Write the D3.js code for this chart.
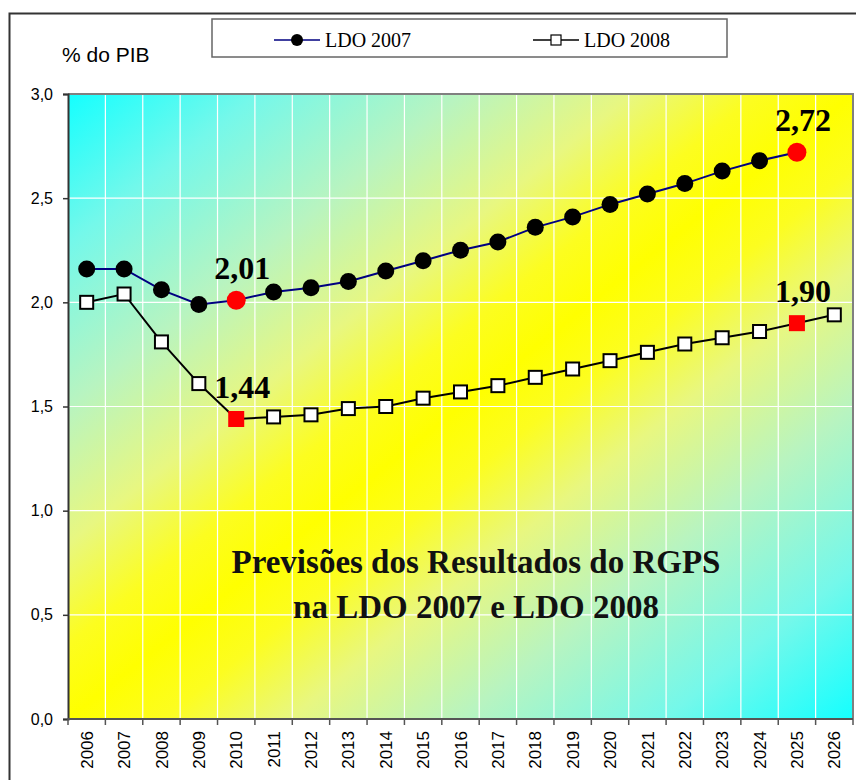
<!DOCTYPE html>
<html>
<head>
<meta charset="utf-8">
<script src="https://cdn.jsdelivr.net/npm/d3@7"></script>
<style>
  html, body { margin: 0; padding: 0; background: #fff; }
  svg { display: block; }
</style>
</head>
<body>
<svg id="chart" width="856" height="780"></svg>
<script>
// Categories and series (share of GDP, %)
const years = ["2006","2007","2008","2009","2010","2011","2012","2013","2014","2015","2016",
               "2017","2018","2019","2020","2021","2022","2023","2024","2025","2026"];
const ldo2007 = [2.16, 2.16, 2.06, 1.99, 2.01, 2.05, 2.07, 2.10, 2.15, 2.20, 2.25,
                 2.29, 2.36, 2.41, 2.47, 2.52, 2.57, 2.63, 2.68, 2.72, null];
const ldo2008 = [2.00, 2.04, 1.81, 1.61, 1.44, 1.45, 1.46, 1.49, 1.50, 1.54, 1.57,
                 1.60, 1.64, 1.68, 1.72, 1.76, 1.80, 1.83, 1.86, 1.90, 1.94];
const highlightYears = ["2010", "2025"];
const yTicks = [0, 0.5, 1.0, 1.5, 2.0, 2.5, 3.0];
const seriesNames = ["LDO 2007", "LDO 2008"];
const titleLines = ["Previsões dos Resultados do RGPS", "na LDO 2007 e LDO 2008"];
const yUnit = "% do PIB";

const svg = d3.select("#chart");
const plot = { left: 68, right: 853, top: 94, bottom: 719 };

const x = d3.scaleBand().domain(years).range([plot.left, plot.right]).padding(0);
const y = d3.scaleLinear().domain([0, 3]).range([plot.bottom, plot.top]);
const cx = d => x(d) + x.bandwidth() / 2;
const fmt = v => d3.format(".2f")(v).replace(".", ",");

// Outer frame
svg.append("rect")
  .attr("x", 9.5).attr("y", 13.5).attr("width", 900).attr("height", 900)
  .attr("fill", "none").attr("stroke", "#333").attr("stroke-width", 2);

// Diagonal cyan-yellow-cyan fill of the plot area
const defs = svg.append("defs");
const grad = defs.append("linearGradient").attr("id", "bg")
  .attr("x1", 0).attr("y1", 0).attr("x2", 1).attr("y2", 1);
[
  [0, "#14ffff"], [0.12, "#74f8ea"], [0.25, "#b8f4c0"], [0.36, "#e8f780"], [0.44, "#fcfd20"],
  [0.5, "#ffff00"],
  [0.56, "#fcfd20"], [0.64, "#e8f780"], [0.75, "#b8f4c0"], [0.88, "#74f8ea"], [1, "#14ffff"]
].forEach(([o, c]) => grad.append("stop").attr("offset", o).attr("stop-color", c));

svg.append("rect")
  .attr("x", plot.left).attr("y", plot.top)
  .attr("width", plot.right - plot.left).attr("height", plot.bottom - plot.top)
  .attr("fill", "url(#bg)");

// Gridlines
const grid = svg.append("g").attr("stroke", "#fff").attr("stroke-width", 1.2);
grid.selectAll("line.v").data(years.slice(1)).join("line")
  .attr("x1", d => x(d)).attr("x2", d => x(d))
  .attr("y1", plot.top).attr("y2", plot.bottom);
grid.selectAll("line.h").data(yTicks.slice(1, -1)).join("line")
  .attr("x1", plot.left).attr("x2", plot.right)
  .attr("y1", d => y(d)).attr("y2", d => y(d));

// Plot border (top / right)
svg.append("path")
  .attr("d", `M${plot.left},${plot.top}H${plot.right}V${plot.bottom}`)
  .attr("fill", "none").attr("stroke", "#808080").attr("stroke-width", 2);

// Y axis
const yAxis = svg.append("g")
  .attr("transform", `translate(${plot.left},0)`)
  .call(d3.axisLeft(y).tickValues(yTicks)
    .tickFormat(d => d3.format(".1f")(d).replace(".", ","))
    .tickSize(5).tickPadding(10));
yAxis.select(".domain").attr("stroke", "#333").attr("stroke-width", 2);
yAxis.selectAll(".tick line").attr("stroke", "#333").attr("stroke-width", 1.5);
yAxis.selectAll("text").attr("font-family", "Liberation Sans, Arial, sans-serif")
  .attr("font-size", 16).attr("fill", "#000");

// X axis: labels centred in each year band, ticks on band boundaries
const xAxis = svg.append("g")
  .attr("transform", `translate(0,${plot.bottom})`)
  .call(d3.axisBottom(x).tickSize(0).tickPadding(0));
xAxis.select(".domain").remove();
xAxis.selectAll("text")
  .attr("font-family", "Liberation Sans, Arial, sans-serif")
  .attr("font-size", 17).attr("fill", "#000")
  .attr("text-anchor", "end")
  .attr("transform", "rotate(-90)")
  .attr("x", -12).attr("y", 0).attr("dy", "0.36em");
svg.append("line")
  .attr("x1", plot.left).attr("x2", plot.right)
  .attr("y1", plot.bottom).attr("y2", plot.bottom)
  .attr("stroke", "#555").attr("stroke-width", 2);
svg.append("g").selectAll("line")
  .data(years.map(d => x(d)).concat([x.range()[1]]))
  .join("line")
  .attr("x1", d => d).attr("x2", d => d)
  .attr("y1", plot.bottom).attr("y2", plot.bottom + 6)
  .attr("stroke", "#555").attr("stroke-width", 1.5);

// Unit label
svg.append("text").attr("x", 62).attr("y", 62)
  .attr("font-family", "Liberation Sans, Arial, sans-serif")
  .attr("font-size", 21).attr("fill", "#000").text(yUnit);

// Series lines
const pts07 = years.map((d, i) => ({ year: d, v: ldo2007[i] })).filter(p => p.v != null);
const pts08 = years.map((d, i) => ({ year: d, v: ldo2008[i] })).filter(p => p.v != null);
const line = d3.line().x(p => cx(p.year)).y(p => y(p.v));

svg.append("path").datum(pts07).attr("d", line)
  .attr("fill", "none").attr("stroke", "#000080").attr("stroke-width", 2);
svg.append("path").datum(pts08).attr("d", line)
  .attr("fill", "none").attr("stroke", "#000").attr("stroke-width", 2);

// Markers
svg.append("g").selectAll("circle").data(pts07).join("circle")
  .attr("cx", p => cx(p.year)).attr("cy", p => y(p.v))
  .attr("r", p => highlightYears.includes(p.year) ? 9.5 : 8.5)
  .attr("fill", p => highlightYears.includes(p.year) ? "#ff0000" : "#000");

svg.append("g").selectAll("rect").data(pts08).join("rect")
  .each(function (p) {
    const hi = highlightYears.includes(p.year);
    const s = hi ? 16 : 13;
    d3.select(this)
      .attr("x", cx(p.year) - s / 2).attr("y", y(p.v) - s / 2)
      .attr("width", s).attr("height", s)
      .attr("fill", hi ? "#ff0000" : "#fff")
      .attr("stroke", hi ? "none" : "#000").attr("stroke-width", 2);
  });

// Value labels on highlighted points
const labelPts = pts07.concat(pts08).filter(p => highlightYears.includes(p.year));
svg.append("g").selectAll("text").data(labelPts).join("text")
  .attr("x", p => cx(p.year) + 6).attr("y", p => y(p.v) - 21)
  .attr("text-anchor", "middle")
  .attr("font-family", "Liberation Serif, Times New Roman, serif")
  .attr("font-weight", "bold").attr("font-size", 32).attr("fill", "#000")
  .text(p => fmt(p.v));

// Title inside the plot
svg.append("g").selectAll("text").data(titleLines).join("text")
  .attr("x", 476).attr("y", (d, i) => 573 + i * 45)
  .attr("text-anchor", "middle")
  .attr("font-family", "Liberation Serif, Times New Roman, serif")
  .attr("font-weight", "bold").attr("font-size", 33).attr("fill", "#111")
  .text(d => d);

// Legend
const legend = svg.append("g");
legend.append("rect")
  .attr("x", 212).attr("y", 19).attr("width", 515).attr("height", 38)
  .attr("fill", "#fff").attr("stroke", "#666").attr("stroke-width", 1.5);
const legItems = [
  { name: seriesNames[0], x: 274, color: "#000080", shape: "circle" },
  { name: seriesNames[1], x: 533, color: "#000", shape: "square" }
];
legItems.forEach(it => {
  legend.append("line").attr("x1", it.x).attr("x2", it.x + 46)
    .attr("y1", 40).attr("y2", 40).attr("stroke", it.color).attr("stroke-width", 1.5);
  if (it.shape === "circle") {
    legend.append("circle").attr("cx", it.x + 23).attr("cy", 40).attr("r", 6).attr("fill", "#000");
  } else {
    legend.append("rect").attr("x", it.x + 23 - 5).attr("y", 35).attr("width", 10).attr("height", 10)
      .attr("fill", "#fff").attr("stroke", "#000").attr("stroke-width", 1.2);
  }
  legend.append("text").attr("x", it.x + 51).attr("y", 47)
    .attr("font-family", "Liberation Serif, Times New Roman, serif")
    .attr("font-size", 20).attr("fill", "#000").text(it.name);
});
</script>
</body>
</html>
